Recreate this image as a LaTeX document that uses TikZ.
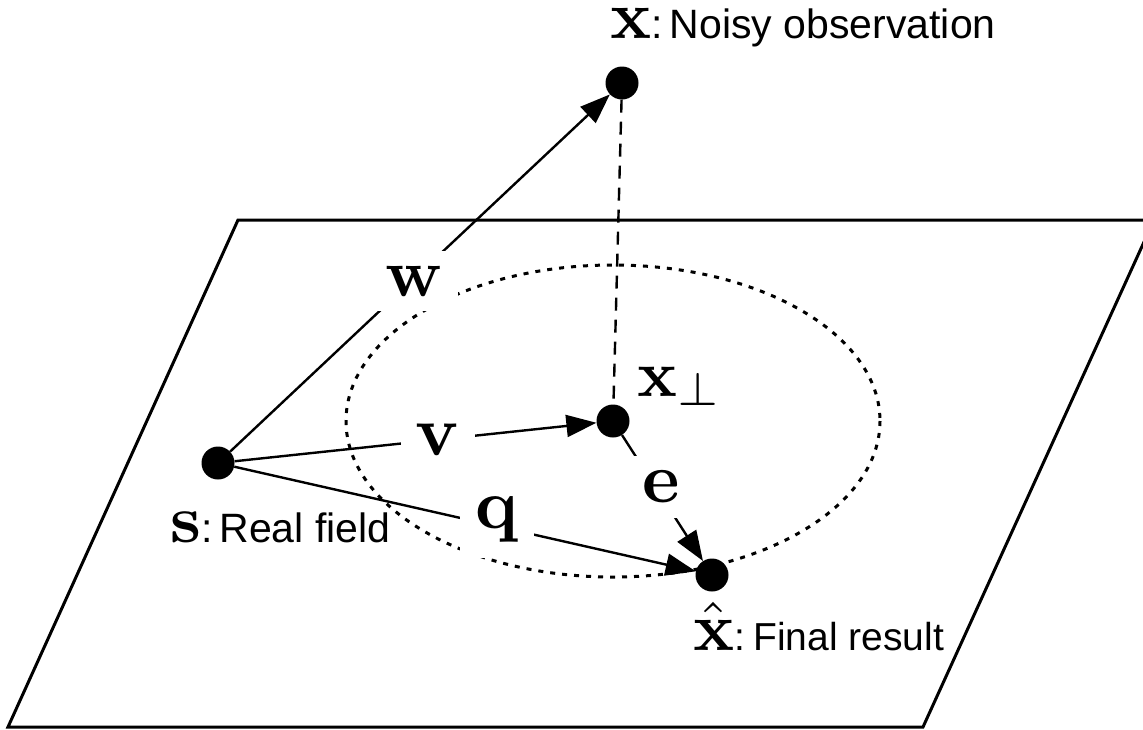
\documentclass[tikz,border=0pt]{standalone}
\usepackage[no-math]{fontspec}
\newfontfamily\helv{Liberation Sans}
\usetikzlibrary{arrows.meta}
\begin{document}
\begin{tikzpicture}[x=1pt,y=-1pt,
  dot/.style={circle,fill=black,inner sep=0pt,minimum size=33pt},
  arr/.style={line width=2.4pt,-{Triangle[length=30pt,width=22pt]}},
  lbl/.style={fill=white,inner sep=15pt},
  captxt/.style={inner sep=0pt,anchor=base west,font=\fontsize{40}{48}\selectfont\helv}
  ]
\useasboundingbox (0,0) rectangle (1143,729);
\draw[line width=3pt, line join=miter] (238,220) -- (1154,220) -- (923,727) -- (8,727) -- cycle;
\draw[line width=3pt, dash pattern=on 5pt off 7pt] (613,421) ellipse [x radius=267, y radius=156];
\node[dot] (s) at (218,463) {};
\node[dot] (x) at (622,83) {};
\node[dot] (p) at (613,421) {};
\node[dot] (h) at (712,575) {};
\draw[line width=2.4pt, dash pattern=on 13pt off 9pt] (x) -- (p);
\draw[arr] (s) -- (x);
\draw[arr] (s) -- (p);
\draw[arr] (s) -- (h);
\draw[arr] (p) -- (h);
\node[lbl] (lw) at (414,281) {\scalebox{6.8}{\normalsize$\mathbf{w}$}};
\node[lbl] (lv) at (438,440) {\scalebox{7.1}{\normalsize$\mathbf{v}$}};
\node[lbl] (lq) at (497,520) {\scalebox{7.1}{\normalsize$\mathbf{q}$}};
\node[lbl] (le) at (661,487) {\scalebox{7.1}{\normalsize$\mathbf{e}$}};
\node[anchor=base west, inner sep=0pt] (lp) at (637,396) {\scalebox{6.6}{\normalsize$\mathbf{x}_\perp$}};
\node[captxt, font=\fontsize{41}{48}\selectfont\helv] (cs) at (170,542) {\scalebox{6.8}{\normalsize$\mathbf{s}$}:\kern7pt Real field};
\node[captxt, font=\fontsize{39}{44}\selectfont\helv] (ch) at (693,650) {\scalebox{6.8}{\normalsize$\hat{\mathbf{x}}$}:\kern8pt Final result};
\node[captxt, font=\fontsize{41}{48}\selectfont\helv] (cx) at (610,38) {\scalebox{6.8}{\normalsize$\mathbf{x}$}:\kern7pt Noisy observation};
\end{tikzpicture}
\end{document}
